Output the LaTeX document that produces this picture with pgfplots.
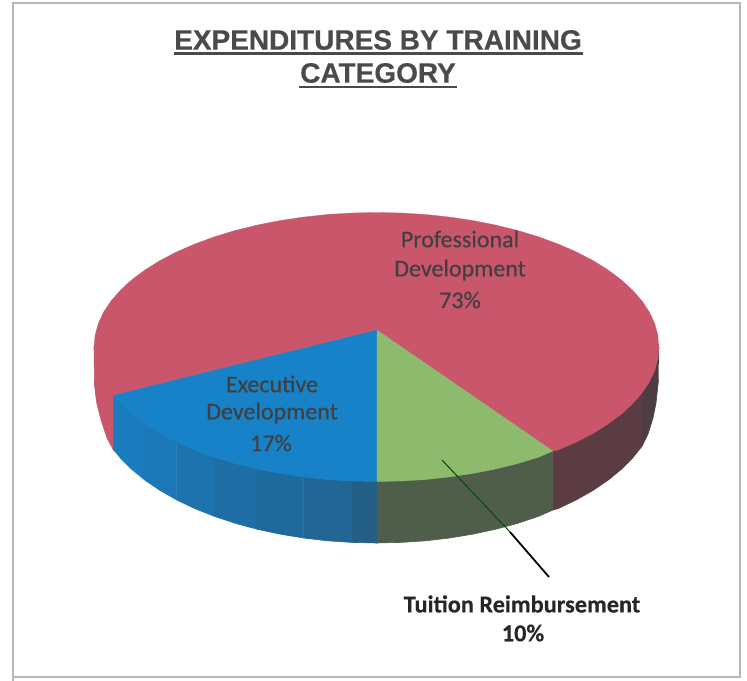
\documentclass[border=0pt]{standalone}
\usepackage{fontspec}
\setmainfont{Liberation Sans}
\newfontfamily\titlefont[FakeBold=0.5]{Liberation Sans Bold}
\newfontfamily\calfont[FakeBold=0.45]{Carlito}
\newfontfamily\calbold[FakeBold=0.3]{Carlito Bold}
\usepackage{pgfplots}
\pgfplotsset{compat=1.18}
\definecolor{cred}{RGB}{201,86,107}
\definecolor{cblue}{RGB}{24,130,200}
\definecolor{cgreen}{RGB}{141,186,108}
\definecolor{wgreen}{RGB}{78,94,75}
\definecolor{wreda}{RGB}{76,62,66}
\definecolor{wredb}{RGB}{90,60,66}
\definecolor{wbluea}{RGB}{35,95,135}
\definecolor{wblued}{RGB}{26,123,189}
\definecolor{txt}{RGB}{74,74,74}
\begin{document}
\begin{tikzpicture}
\begin{axis}[
  width=747bp, height=681bp, scale only axis,
  xmin=0, xmax=747, ymin=0, ymax=681, y dir=reverse,
  hide axis, clip=true,
]
\addplot[draw=none] coordinates {(0,0)(747,681)};
% frame of the scanned page
\addplot[draw=black!28, line width=2.2bp] coordinates {(13,681)(13,3)(740,3)(740,677)(13,677)};
% side walls
\addplot[fill=cred, draw=cred, line width=0.6bp] coordinates {(94,347)(94.5,385)(96.5,402)(101,420)(107,438)(114,451)(114,395.5)(111,393)(103.6,381.8)(98.3,370.4)(95.1,358.7)};
\addplot[fill=wreda, draw=wreda, line width=0.6bp] coordinates {(659,347)(657.9,358.7)(654.7,370.4)(649.4,381.8)(642,393)(642,446.3)(648,434)(653,418)(656,403)(658.5,380)};
\addplot[fill=wredb, draw=wredb, line width=0.6bp] coordinates {(642,393)(632.5,403.8)(621.1,414.3)(607.9,424.1)(592.9,433.5)(576.3,442.1)(558.1,450)(553,451)(553,510)(558.1,508.6)(576.3,499.9)(592.9,490.5)(607.9,480.3)(621.1,469.5)(632.5,458.1)(642,446.3)};
\addplot[fill=wgreen, draw=wgreen, line width=0.6bp] coordinates {(553,451)(538.5,457.2)(517.8,463.5)(495.9,468.9)(473.1,473.4)(449.6,476.9)(425.5,479.5)(401.1,481)(376.5,481.5)(376.5,543)(401.1,542.4)(425.5,540.8)(449.6,538)(473.1,534.1)(495.9,529.2)(517.8,523.3)(538.5,516.4)(553,510)};
\addplot[fill=wblued, draw=wblued, line width=0.6bp] coordinates {(113,395.5)(120.5,403.8)(131.9,414.3)(145.1,424.1)(145.1,480.3)(131.9,469.5)(120.5,458.1)(113,449)};
\addplot[fill=wblued!85!wbluea, draw=wblued!85!wbluea, line width=0.6bp] coordinates {(145.1,424.1)(160.1,433.5)(176.7,442.1)(176.7,499.9)(160.1,490.5)(145.1,480.3)};
\addplot[fill=wblued!70!wbluea, draw=wblued!70!wbluea, line width=0.6bp] coordinates {(176.7,442.1)(194.9,450)(214.5,457.2)(214.5,516.4)(194.9,508.6)(176.7,499.9)};
\addplot[fill=wblued!55!wbluea, draw=wblued!55!wbluea, line width=0.6bp] coordinates {(214.5,457.2)(235.2,463.5)(257.1,468.9)(257.1,529.2)(235.2,523.3)(214.5,516.4)};
\addplot[fill=wblued!40!wbluea, draw=wblued!40!wbluea, line width=0.6bp] coordinates {(257.1,468.9)(279.9,473.4)(303.4,476.9)(303.4,538)(279.9,534.1)(257.1,529.2)};
\addplot[fill=wblued!25!wbluea, draw=wblued!25!wbluea, line width=0.6bp] coordinates {(303.4,476.9)(327.5,479.5)(351.9,481)(351.9,542.4)(327.5,540.8)(303.4,538)};
\addplot[fill=wbluea, draw=wbluea, line width=0.6bp] coordinates {(351.9,481)(376.5,481.5)(376.5,543)(351.9,542.4)};
% top face
\addplot[fill=cred, draw=cred, line width=0.3bp] coordinates {(659,347)(657.9,358.7)(654.7,370.4)(649.4,381.8)(642,393)(632.5,403.8)(621.1,414.3)(607.9,424.1)(592.9,433.5)(576.3,442.1)(558.1,450)(553,451)(377,330)(113,395.5)(111,393)(103.6,381.8)(98.3,370.4)(95.1,358.7)(94,347)(95.1,335.3)(98.3,323.6)(103.6,312.2)(111,301)(120.5,290.2)(131.9,279.7)(145.1,269.9)(160.1,260.5)(176.7,251.9)(194.9,244)(214.5,236.8)(235.2,230.5)(257.1,225.1)(279.9,220.6)(303.4,217.1)(327.5,214.5)(351.9,213)(376.5,212.5)(401.1,213)(425.5,214.5)(449.6,217.1)(473.1,220.6)(495.9,225.1)(517.8,230.5)(538.5,236.8)(558.1,244)(576.3,251.9)(592.9,260.5)(607.9,269.9)(621.1,279.7)(632.5,290.2)(642,301)(649.4,312.2)(654.7,323.6)(657.9,335.3)};
\addplot[fill=cblue, draw=cblue, line width=0.3bp] coordinates {(377,330)(113,395.5)(120.5,403.8)(131.9,414.3)(145.1,424.1)(160.1,433.5)(176.7,442.1)(194.9,450)(214.5,457.2)(235.2,463.5)(257.1,468.9)(279.9,473.4)(303.4,476.9)(327.5,479.5)(351.9,481)(377,481.5)};
\addplot[fill=cgreen, draw=cgreen, line width=0.3bp] coordinates {(377,330)(377,481.5)(401.1,481)(425.5,479.5)(449.6,476.9)(473.1,473.4)(495.9,468.9)(517.8,463.5)(538.5,457.2)(553,451)};
% leader line
\addplot[draw=black!70!green, line width=1bp] coordinates {(442,460)(510,532)};
\addplot[draw=black, line width=1.8bp] coordinates {(510,532)(549,577)};
% title underlines
\addplot[draw=txt, line width=2.6bp] coordinates {(174,53.5)(583,53.5)};
\addplot[draw=txt, line width=2.6bp] coordinates {(299,87)(457,87)};
% texts
\node[font=\titlefont\fontsize{28bp}{32bp}\selectfont, text=txt] at (axis cs:378,40) {EXPENDITURES BY TRAINING};
\node[font=\titlefont\fontsize{28bp}{32bp}\selectfont, text=txt] at (axis cs:378,73) {CATEGORY};
\node[font=\calfont\fontsize{24bp}{28bp}\selectfont, text=black!75] at (axis cs:460,239) {Professional};
\node[font=\calfont\fontsize{24bp}{28bp}\selectfont, text=black!75] at (axis cs:460,270) {Development};
\node[font=\calfont\fontsize{24bp}{28bp}\selectfont, text=black!75] at (axis cs:460,300) {73\%};
\node[font=\calfont\fontsize{24bp}{28bp}\selectfont, text=black!75] at (axis cs:272,384) {Executive};
\node[font=\calfont\fontsize{24bp}{28bp}\selectfont, text=black!75] at (axis cs:272,413) {Development};
\node[font=\calfont\fontsize{24bp}{28bp}\selectfont, text=black!75] at (axis cs:271,443) {17\%};
\node[font=\calbold\fontsize{24.3bp}{28bp}\selectfont, text=black!85] at (axis cs:522,604) {Tuition Reimbursement};
\node[font=\calbold\fontsize{24.3bp}{28bp}\selectfont, text=black!85] at (axis cs:523,633) {10\%};
\end{axis}
\end{tikzpicture}
\end{document}
